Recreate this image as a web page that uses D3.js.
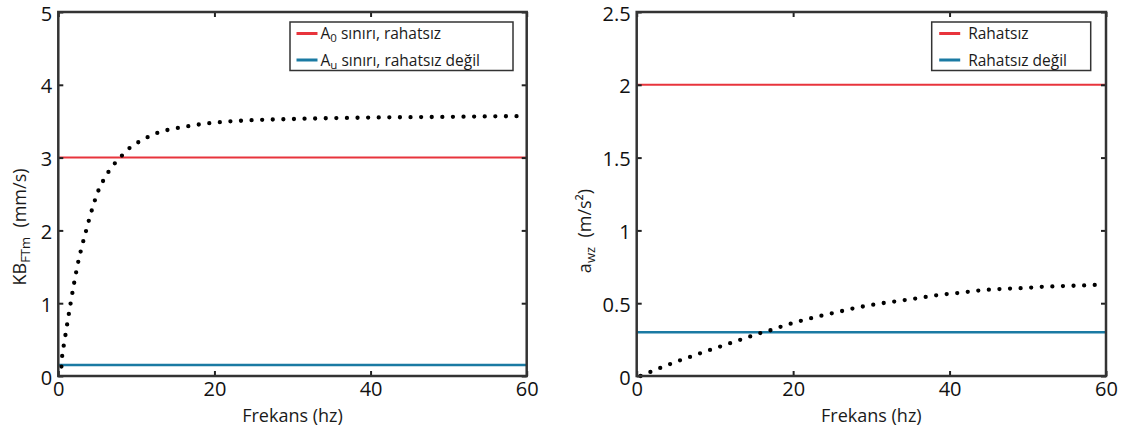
<!DOCTYPE html>
<html>
<head>
<meta charset="utf-8">
<script src="https://cdn.jsdelivr.net/npm/d3@7"></script>
<style>
  body { margin: 0; background: #fff; }
  svg { display: block; font-family: "Open Sans", sans-serif; }
</style>
</head>
<body>
<div id="chart"></div>
<script>
// left panel: KB_FTm vs frequency
const kbFreq = [0.4, 0.5, 0.75, 1.0, 1.5, 2.0, 2.5, 3.0, 3.5, 4.0, 4.5, 5.0, 6.0, 7.0, 8.0, 9.0, 10, 11, 12, 14, 16, 18, 20, 24, 30, 40, 50, 59.2];
const kbValues = [0.13, 0.28, 0.45, 0.62, 0.95, 1.26, 1.54, 1.77, 1.97, 2.17, 2.35, 2.51, 2.73, 2.89, 3.01, 3.12, 3.195, 3.255, 3.31, 3.38, 3.42, 3.455, 3.48, 3.51, 3.53, 3.55, 3.56, 3.57];
const kbTicksY = [0, 1, 2, 3, 4, 5];
const kbLimits = [3, 0.15];
const kbLegend = ["A|0| sınırı, rahatsız", "A|u| sınırı, rahatsız değil"];

// right panel: a_wz vs frequency
const awFreq = [0.5, 1.3, 2.55, 3.8, 5, 6.3, 7.6, 8.85, 10.1, 11.4, 12.7, 14, 15.2, 16.5, 17.8, 19, 20.3, 22.9, 25.5, 28.1, 30.7, 33.4, 36.1, 38.8, 41.4, 44.1, 46.8, 49.4, 52, 54.7, 57.5, 59];
const awValues = [0.0, 0.018, 0.046, 0.071, 0.098, 0.121, 0.146, 0.17, 0.192, 0.215, 0.24, 0.261, 0.286, 0.304, 0.327, 0.348, 0.369, 0.405, 0.437, 0.469, 0.494, 0.515, 0.536, 0.558, 0.572, 0.589, 0.598, 0.604, 0.613, 0.618, 0.623, 0.627];
const awTicksY = [0, 0.5, 1, 1.5, 2, 2.5];
const awLimits = [2, 0.3];
const awLegend = ["Rahatsız", "Rahatsız değil"];

const xTicks = [0, 20, 40, 60];
const limitColors = ["#e8343c", "#1a7aa3"];

const width = 1132, height = 433;
const svg = d3.select("#chart").append("svg").attr("width", width).attr("height", height);

function drawPanel(opt) {
  const {x0, x1, y0, y1} = opt;
  const g = svg.append("g");
  const x = d3.scaleLinear().domain([0, 60]).range([x0, x1]);
  const y = d3.scaleLinear().domain([0, opt.yMax]).range([y1, y0]);

  // limit lines
  opt.limits.forEach((v, i) => {
    g.append("line")
      .attr("x1", x0).attr("x2", x1)
      .attr("y1", y(v)).attr("y2", y(v))
      .attr("stroke", limitColors[i])
      .attr("stroke-width", i === 0 ? 2 : 2.5);
  });

  // dotted curve
  const pts = opt.freq.map((f, i) => [f, opt.values[i]]);
  const line = d3.line().x(d => x(d[0])).y(d => y(d[1])).curve(d3.curveMonotoneX);
  g.append("path")
    .attr("d", line(pts))
    .attr("fill", "none")
    .attr("stroke", "#000")
    .attr("stroke-width", 4.3)
    .attr("stroke-linecap", "round")
    .attr("stroke-dasharray", "0 10.6");

  // axes with inward ticks
  const styleAxis = sel => {
    sel.select(".domain").remove();
    sel.selectAll(".tick line").attr("stroke", "#222").attr("stroke-width", 2);
    sel.selectAll(".tick text").attr("fill", "#111").attr("font-size", 20)
      .attr("font-family", "'Open Sans', sans-serif");
  };
  g.append("g").attr("transform", `translate(${x0},0)`)
    .call(d3.axisLeft(y).tickValues(opt.ticksY).tickSize(-5).tickPadding(6).tickFormat(d3.format("")))
    .call(styleAxis)
    .selectAll(".tick text").attr("dy", "0.4em");
  g.append("g").attr("transform", `translate(${x1},0)`)
    .call(d3.axisRight(y).tickValues(opt.ticksY).tickSize(-5).tickFormat(""))
    .call(styleAxis);
  g.append("g").attr("transform", `translate(0,${y1})`)
    .call(d3.axisBottom(x).tickValues(xTicks).tickSize(-5).tickPadding(6))
    .call(styleAxis);
  g.append("g").attr("transform", `translate(0,${y0})`)
    .call(d3.axisTop(x).tickValues(xTicks).tickSize(-5).tickFormat(""))
    .call(styleAxis);

  // frame
  g.append("rect")
    .attr("x", x0).attr("y", y0)
    .attr("width", x1 - x0).attr("height", y1 - y0)
    .attr("fill", "none").attr("stroke", "#333").attr("stroke-width", 2.5);

  // axis titles
  g.append("text")
    .attr("x", (x0 + x1) / 2).attr("y", 422)
    .attr("text-anchor", "middle")
    .attr("font-size", 18).attr("fill", "#1a1a1a")
    .text("Frekans (hz)");

  const yl = g.append("text")
    .attr("transform", `translate(${opt.yLabelX},${opt.yLabelY}) rotate(-90)`)
    .attr("text-anchor", "middle")
    .attr("font-size", 18).attr("fill", "#1a1a1a");
  yl.append("tspan").text(opt.yLabel[0]);
  yl.append("tspan").attr("font-size", 13).attr("dy", 4).text(opt.yLabel[1]);
  yl.append("tspan").attr("dy", -4).attr("xml:space", "preserve").text("\u00a0\u00a0" + opt.yLabel[2]);

  // legend
  const lg = g.append("g");
  lg.append("rect")
    .attr("x", opt.legX0).attr("y", 22)
    .attr("width", opt.legX1 - opt.legX0).attr("height", 48.5)
    .attr("fill", "#fff").attr("stroke", "#333").attr("stroke-width", 1.5);
  opt.legend.forEach((lab, i) => {
    const ly = 33.5 + i * 26.5;
    lg.append("line")
      .attr("x1", opt.legX0 + opt.legPad).attr("x2", opt.legX0 + opt.legPad + 21)
      .attr("y1", ly).attr("y2", ly)
      .attr("stroke", limitColors[i]).attr("stroke-width", 3);
    const t = lg.append("text")
      .attr("x", opt.legX0 + opt.legPad + opt.legText)
      .attr("y", ly + 5.5)
      .attr("font-size", 15.5).attr("fill", "#1a1a1a");
    const parts = lab.split("|");
    t.append("tspan").text(parts[0]);
    if (parts.length > 1) {
      t.append("tspan").attr("font-size", 11.5).attr("dy", 3).text(parts[1]);
      t.append("tspan").attr("dy", -3).text(parts[2]);
    }
  });
}

drawPanel({
  x0: 58.3, x1: 526.7, y0: 12, y1: 376, yMax: 5,
  freq: kbFreq, values: kbValues, ticksY: kbTicksY, limits: kbLimits,
  yLabel: ["KB", "FTm", "(mm/s)"], yLabelX: 26, yLabelY: 227,
  legend: kbLegend, legX0: 290, legX1: 513, legPad: 6.5, legText: 24
});

drawPanel({
  x0: 636.7, x1: 1106, y0: 12, y1: 376, yMax: 2.5,
  freq: awFreq, values: awValues, ticksY: awTicksY, limits: awLimits,
  yLabel: ["a", "wz", "(m/s²)"], yLabelX: 591, yLabelY: 231,
  legend: awLegend, legX0: 931.7, legX1: 1090.7, legPad: 7.5, legText: 29
});
</script>
</body>
</html>
